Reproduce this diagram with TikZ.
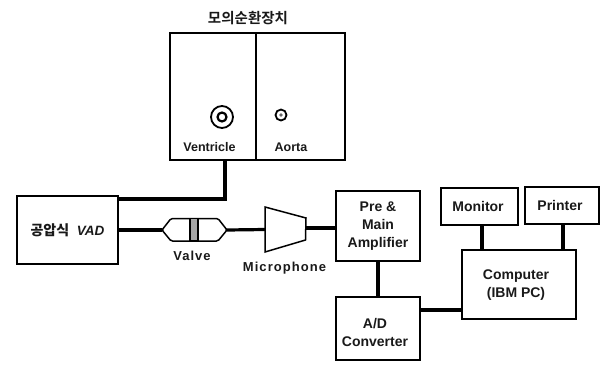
\documentclass[tikz,border=0pt]{standalone}
\usepackage{fontspec}
\setmainfont{Liberation Sans}[BoldFont={Liberation Sans Bold},BoldItalicFont={Liberation Sans Bold Italic}]
\newfontfamily\krfont{Noto Sans CJK KR Bold}
\newfontfamily\widefont{Liberation Sans Bold}[LetterSpace=8]
\usetikzlibrary{calc}
\tikzset{
  bx/.style={draw=black,line width=1.7pt,inner sep=0pt,align=center,font=\bfseries\fontsize{14}{18}\selectfont,text=black!90},
  wire/.style={draw=black,line width=3.2pt},
  lbl/.style={inner sep=0pt,text=black!90},
  rect/.style args={#1/#2}{minimum width=#1pt,minimum height=#2pt}
}
\begin{document}
\begin{tikzpicture}[x=1pt,y=-1pt]
\useasboundingbox (0,0) rectangle (603,367);
% mock circulation box
\node[bx,rect=175/127] (mock) at (257.5,96.5) {};
\coordinate (divT) at (256,33); \coordinate (divB) at (256,160);
\draw[line width=1.9pt] (divT) -- (divB);
\node[lbl,font=\fontsize{14.5}{16}\krfont] (title) at (248,18) {모의순환장치};
\node[lbl,font=\bfseries\fontsize{12.5}{14}\selectfont] (vent) at (209.5,147) {Ventricle};
\node[lbl,font=\bfseries\fontsize{12.5}{14}\selectfont] (aorta) at (291,147) {Aorta};
\node[circle,draw,line width=1.8pt,minimum size=22pt,inner sep=0pt] (vo) at (222,117) {};
\node[circle,draw,line width=2.2pt,minimum size=9pt,inner sep=0pt] (vi) at (222,117) {};
\node[circle,draw,line width=1.8pt,minimum size=11pt,inner sep=0pt] (ao) at (281,115) {};
\fill[black!60] (281,115) circle (1.8pt);
% VAD
\node[bx,rect=101/68] (vad) at (67.5,230) {{\fontsize{14}{16}\selectfont\krfont 공압식}\ \ {\fontsize{13.5}{16}\selectfont\bfseries\itshape VAD}};
% Valve
\coordinate (vL) at (162,230); \coordinate (vR) at (227,230);
\draw[line width=1.5pt,rounded corners=1.5pt] (vL) -- (171,218.5) -- (218,218.5) -- (vR) -- (218,241) -- (171,241) -- cycle;
\node[draw,line width=1.2pt,minimum width=8pt,minimum height=22.5pt,inner sep=0pt,fill=black!35] (band) at (194,229.7) {};
\node[lbl,font=\fontsize{13}{15}\selectfont] (vlab) at (192,256) {\widefont Valve};
% Mic
\coordinate (mL) at (265,229.5); \coordinate (mR) at (306,228);
\draw[line width=1.5pt] (265,207) -- (306,218) -- (305.5,240) -- (265,252) -- cycle;
\node[lbl,font=\fontsize{13}{15}\selectfont] (mlab) at (284.5,268) {\widefont Microphone};
% right boxes
\node[bx,rect=84/70] (amp) at (378,226) {Pre \&\\Main\\Amplifier};
\node[bx,rect=84/63] (adc) at (378,328.5) {};
\node[lbl,align=center,font=\bfseries\fontsize{14}{18}\selectfont] (adct) at (375,332) {A/D\\Converter};
\node[bx,rect=77/37] (mon) at (479.5,206.5) {};
\node[lbl,font=\bfseries\fontsize{14}{18}\selectfont] (mont) at (478,206) {Monitor};
\node[bx,rect=74/37] (pri) at (562,205.5) {};
\node[lbl,font=\bfseries\fontsize{14}{18}\selectfont] (prit) at (560,205) {Printer};
\node[bx,rect=114/69] (pc) at (519,284.5) {};
\node[lbl,align=center,font=\bfseries\fontsize{14}{18}\selectfont] (pct) at (516,285) {Computer\\(IBM PC)};
% connectors
\draw[wire] (mock.south -| 225,0) -- (225,199) -- (vad.north east |- 0,199);
\draw[wire] (vad.east |- vL) -- (vL);
\draw[wire] (vR) -- (mL);
\draw[wire] (mR) -- (amp.west |- mR);
\draw[wire] (amp.south) -- (adc.north);
\draw[wire] (adc.east |- 0,310) -- (pc.west |- 0,310);
\draw[wire] (mon.south -| 482,0) -- (pc.north -| 482,0);
\draw[wire] (pri.south -| 563,0) -- (pc.north -| 563,0);
\end{tikzpicture}
\end{document}
